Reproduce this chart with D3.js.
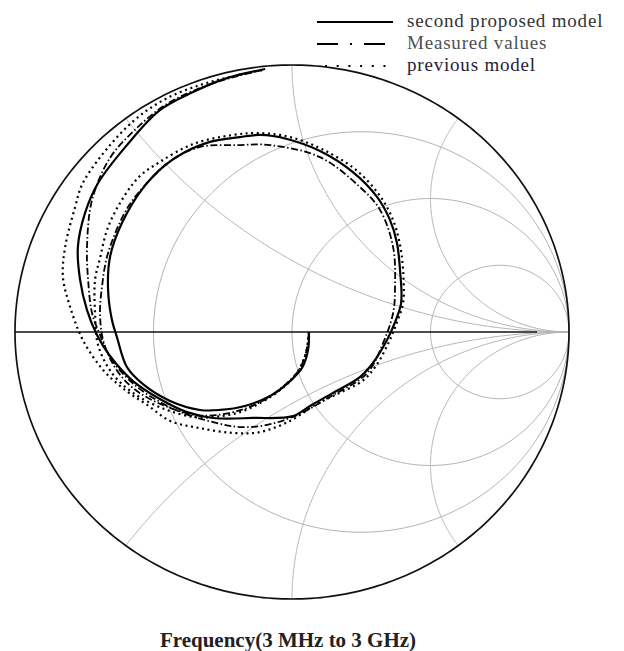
<!DOCTYPE html>
<html>
<head>
<meta charset="utf-8">
<script src="https://cdn.jsdelivr.net/npm/d3@7"></script>
<style>
  body { margin: 0; background: #fff; }
  svg { display: block; }
</style>
</head>
<body>
<div id="chart"></div>
<script>
// Smith chart grid values
var resistanceValues = [1 / 3, 1, 3];
var reactanceValues = [0.5, 1, 2, -0.5, -1, -2];

var proposedRe = [0.061, 0.058, 0.036, -0.007, -0.079, -0.170, -0.260, -0.332, -0.440, -0.538, -0.596, -0.632, -0.650, -0.664, -0.657, -0.614, -0.538, -0.458, -0.386, -0.296, -0.188, -0.116, -0.018, 0.101, 0.220, 0.307, 0.354, 0.379, 0.390, 0.394, 0.372, 0.343, 0.292, 0.245, 0.148, 0.065, 0.004, -0.141, -0.285, -0.379, -0.477, -0.574, -0.657, -0.704, -0.740, -0.765, -0.773, -0.747, -0.700, -0.596, -0.477, -0.357, -0.235, -0.097];
var proposedIm = [0, -0.067, -0.135, -0.184, -0.240, -0.277, -0.292, -0.292, -0.258, -0.195, -0.131, -0.019, 0.045, 0.157, 0.281, 0.408, 0.539, 0.625, 0.674, 0.712, 0.730, 0.738, 0.723, 0.678, 0.599, 0.506, 0.419, 0.333, 0.232, 0.109, 0.037, -0.030, -0.116, -0.169, -0.228, -0.277, -0.315, -0.322, -0.322, -0.300, -0.251, -0.184, -0.090, -0.011, 0.082, 0.195, 0.318, 0.446, 0.558, 0.700, 0.831, 0.899, 0.951, 0.985];

var measuredRe = [0.061, 0.051, 0.025, -0.022, -0.094, -0.184, -0.274, -0.347, -0.458, -0.560, -0.628, -0.679, -0.693, -0.686, -0.664, -0.592, -0.513, -0.433, -0.332, -0.199, -0.079, 0.101, 0.245, 0.318, 0.365, 0.372, 0.365, 0.329, 0.271, 0.137, 0.018, -0.090, -0.188, -0.271, -0.394, -0.477, -0.567, -0.650, -0.693, -0.722, -0.736, -0.740, -0.722, -0.657, -0.567, -0.458, -0.332, -0.224, -0.108];
var measuredIm = [-0.004, -0.075, -0.142, -0.195, -0.251, -0.292, -0.311, -0.311, -0.277, -0.221, -0.150, -0.041, 0.064, 0.169, 0.296, 0.468, 0.569, 0.644, 0.693, 0.700, 0.700, 0.655, 0.543, 0.457, 0.318, 0.169, 0.071, -0.041, -0.154, -0.243, -0.311, -0.348, -0.356, -0.341, -0.303, -0.262, -0.199, -0.105, -0.011, 0.071, 0.195, 0.318, 0.494, 0.652, 0.757, 0.850, 0.914, 0.951, 0.981];

var previousRe = [0.061, 0.051, 0.022, -0.025, -0.101, -0.188, -0.278, -0.357, -0.469, -0.574, -0.650, -0.700, -0.711, -0.711, -0.693, -0.664, -0.603, -0.549, -0.477, -0.357, -0.213, -0.116, -0.007, 0.108, 0.231, 0.318, 0.365, 0.390, 0.401, 0.401, 0.379, 0.350, 0.303, 0.253, 0.155, 0.083, -0.007, -0.116, -0.213, -0.332, -0.440, -0.523, -0.603, -0.682, -0.755, -0.801, -0.827, -0.819, -0.783, -0.755, -0.657, -0.560, -0.451, -0.332, -0.224, -0.108];
var previousIm = [0, -0.075, -0.146, -0.202, -0.258, -0.300, -0.318, -0.318, -0.285, -0.228, -0.154, -0.049, 0.071, 0.195, 0.277, 0.393, 0.513, 0.584, 0.637, 0.704, 0.738, 0.745, 0.730, 0.685, 0.607, 0.509, 0.419, 0.326, 0.232, 0.109, 0.037, -0.037, -0.127, -0.184, -0.236, -0.273, -0.333, -0.375, -0.378, -0.360, -0.333, -0.273, -0.217, -0.142, -0.030, 0.094, 0.206, 0.318, 0.468, 0.558, 0.700, 0.801, 0.876, 0.925, 0.955, 0.981];

var legendLabels = ["second proposed model", "Measured values", "previous model"];
var xLabel = "Frequency(3 MHz to 3 GHz)";

var width = 624;
var height = 651;

var svg = d3.select("#chart")
    .append("svg")
    .attr("width", width)
    .attr("height", height);

var x = d3.scaleLinear().domain([-1, 1]).range([15, 569]);
var y = d3.scaleLinear().domain([-1, 1]).range([599, 65]);

var line = d3.line()
    .x(function(d) { return x(d[0]); })
    .y(function(d) { return y(d[1]); });

// gamma = (z - 1) / (z + 1)
function gamma(r, xx) {
    var den = (r + 1) * (r + 1) + xx * xx;
    return [(r * r + xx * xx - 1) / den, 2 * xx / den];
}

var grid = svg.append("g");

// constant resistance circles
resistanceValues.forEach(function(r) {
    var pts = d3.range(0, 361, 2).map(function(a) {
        var t = a * Math.PI / 180;
        return [r / (r + 1) + Math.cos(t) / (r + 1), Math.sin(t) / (r + 1)];
    });
    grid.append("path")
        .attr("d", line(pts))
        .style("fill", "none")
        .style("stroke", "#b4b4b4")
        .style("stroke-width", 1);
});

// constant reactance arcs
reactanceValues.forEach(function(xx) {
    var pts = d3.range(0, 0.9995, 0.004).map(function(s) {
        return gamma(s / (1 - s), xx);
    });
    pts.push([1, 0]);
    grid.append("path")
        .attr("d", line(pts))
        .style("fill", "none")
        .style("stroke", "#b4b4b4")
        .style("stroke-width", 1);
});

// real axis
svg.append("line")
    .attr("x1", x(-1))
    .attr("y1", y(0))
    .attr("x2", x(0.885))
    .attr("y2", y(0))
    .style("stroke", "#111")
    .style("stroke-width", 1.3);

// outer circle |gamma| = 1
var rim = d3.range(0, 361, 1).map(function(a) {
    var t = a * Math.PI / 180;
    return [Math.cos(t), Math.sin(t)];
});
svg.append("path")
    .attr("d", line(rim))
    .style("fill", "none")
    .style("stroke", "#111")
    .style("stroke-width", 1.7);

var curve = d3.line()
    .x(function(d) { return x(d[0]); })
    .y(function(d) { return y(d[1]); })
    .curve(d3.curveCatmullRom.alpha(0.5));

function pairs(re, im) {
    return re.map(function(v, i) { return [v, im[i]]; });
}

var series = [
    { pts: pairs(previousRe, previousIm), dash: "2,3.6", w: 2.2 },
    { pts: pairs(measuredRe, measuredIm), dash: "7,2.5,1.5,2.5", w: 1.8 },
    { pts: pairs(proposedRe, proposedIm), dash: null, w: 2.2 }
];

series.forEach(function(s) {
    svg.append("path")
        .attr("d", curve(s.pts))
        .style("fill", "none")
        .style("stroke", "#000")
        .style("stroke-width", s.w)
        .style("stroke-dasharray", s.dash);
});

// legend
var legendDash = [null, "21,12,2,12", "2,9.7"];
var legendColor = ["#333", "#505050", "#2a1a38"];
var legendY = [21, 43, 65];
legendLabels.forEach(function(t, i) {
    svg.append("line")
        .attr("x1", 317)
        .attr("y1", legendY[i] + 1)
        .attr("x2", 393)
        .attr("y2", legendY[i] + 1)
        .style("stroke", "#000")
        .style("stroke-width", 2)
        .style("stroke-dasharray", legendDash[i])
        .style("stroke-dashoffset", i == 2 ? -8 : 0);
    svg.append("text")
        .attr("x", 407)
        .attr("y", legendY[i] + 6)
        .style("font-family", "'Liberation Serif', 'DejaVu Serif', serif")
        .style("font-size", "19px")
        .style("letter-spacing", "0.8px")
        .style("fill", legendColor[i])
        .text(t);
});

svg.append("text")
    .attr("x", 288)
    .attr("y", 647)
    .attr("text-anchor", "middle")
    .style("font-family", "'Liberation Serif', 'DejaVu Serif', serif")
    .style("font-size", "21px")
    .style("font-weight", "bold")
    .style("fill", "#222")
    .text(xLabel);
</script>
</body>
</html>
